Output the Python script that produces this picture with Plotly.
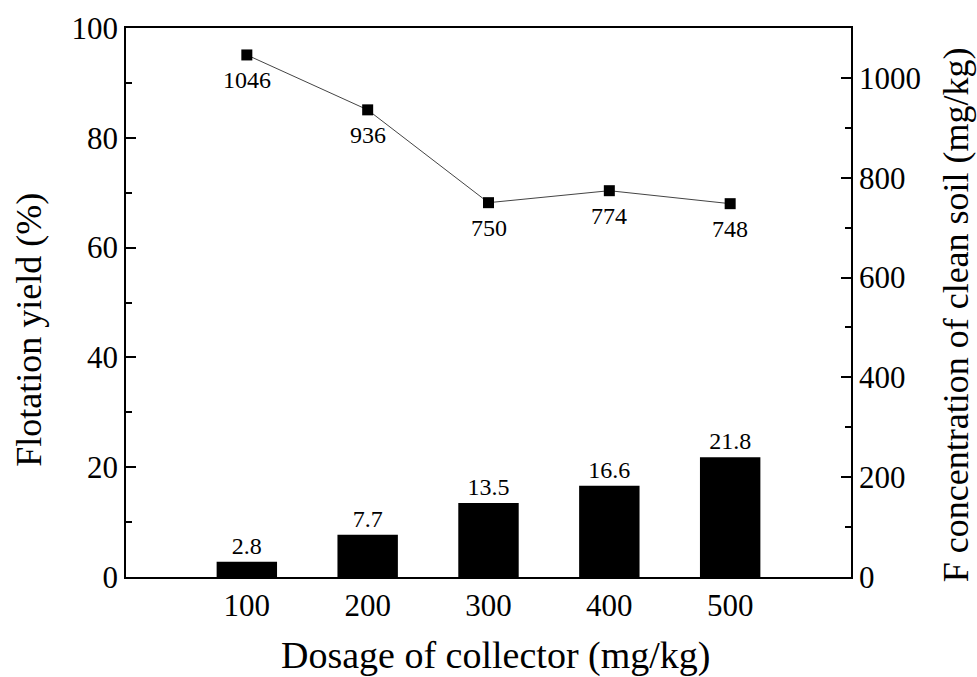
import plotly.graph_objects as go

dosage = [100, 200, 300, 400, 500]
yield_pct = [2.8, 7.7, 13.5, 16.6, 21.8]
f_conc = [1046, 936, 750, 774, 748]
yield_labels = ["2.8", "7.7", "13.5", "16.6", "21.8"]
conc_labels = ["1046", "936", "750", "774", "748"]

FONT = "Liberation Serif"

fig = go.Figure()
fig.add_trace(go.Bar(
    x=dosage, y=yield_pct, width=50,
    marker=dict(color="black", line=dict(width=0)),
    text=yield_labels, textposition="outside",
    textfont=dict(family=FONT, size=24, color="black"),
    cliponaxis=False, showlegend=False,
))
fig.add_trace(go.Scatter(
    x=dosage, y=f_conc, yaxis="y2", mode="lines+markers",
    line=dict(color="#444444", width=1),
    marker=dict(symbol="square", size=11, color="black"),
    cliponaxis=False, showlegend=False,
))

annotations = [
    dict(text=t, x=xv, y=yv, xref="x", yref="y2", xanchor="center", yanchor="top",
         yshift=-10, showarrow=False, font=dict(family=FONT, size=24, color="black"))
    for xv, yv, t in zip(dosage, f_conc, conc_labels)
]
annotations += [
    dict(text="Dosage of collector (mg/kg)", xref="paper", yref="paper",
         x=0.51, y=-0.143, xanchor="center", yanchor="middle", showarrow=False,
         font=dict(family=FONT, size=38, color="black")),
    dict(text="Flotation yield (%)", xref="paper", yref="paper", textangle=-90,
         x=-0.134, y=0.45, xanchor="center", yanchor="middle", showarrow=False,
         font=dict(family=FONT, size=36, color="black")),
    dict(text="F concentration of clean soil (mg/kg)", xref="paper", yref="paper", textangle=-90,
         x=1.145, y=0.477, xanchor="center", yanchor="middle", showarrow=False,
         font=dict(family=FONT, size=36, color="black")),
]

fig.update_layout(
    width=977, height=677,
    margin=dict(l=126, r=126, t=28, b=100),
    paper_bgcolor="white", plot_bgcolor="white",
    font=dict(family=FONT, color="black"),
    xaxis=dict(
        range=[0, 600], tickvals=dosage, ticktext=[str(d) for d in dosage],
        ticks="", showline=True, linecolor="black", linewidth=1.5, mirror=True,
        showgrid=False, zeroline=False, automargin=False,
        tickfont=dict(family=FONT, size=31),
    ),
    yaxis=dict(
        range=[0, 100], dtick=20, ticks="inside", ticklen=10, tickwidth=1.5,
        minor=dict(ticks="inside", ticklen=6, dtick=10, tickwidth=1.5, tickcolor="black"),
        tickcolor="black",
        showline=True, linecolor="black", linewidth=1.5,
        showgrid=False, zeroline=False, automargin=False,
        tickfont=dict(family=FONT, size=31),
    ),
    yaxis2=dict(
        overlaying="y", side="right",
        range=[0, 1100], dtick=200, ticks="inside", ticklen=10, tickwidth=1.5,
        minor=dict(ticks="inside", ticklen=6, dtick=100, tickwidth=1.5, tickcolor="black"),
        tickcolor="black",
        showline=True, linecolor="black", linewidth=1.5,
        showgrid=False, zeroline=False, automargin=False,
        tickfont=dict(family=FONT, size=31),
    ),
    annotations=annotations,
)

fig.write_html("out.html", config={"displayModeBar": False},
               post_script="document.body.style.margin='0';document.body.style.padding='0';")
